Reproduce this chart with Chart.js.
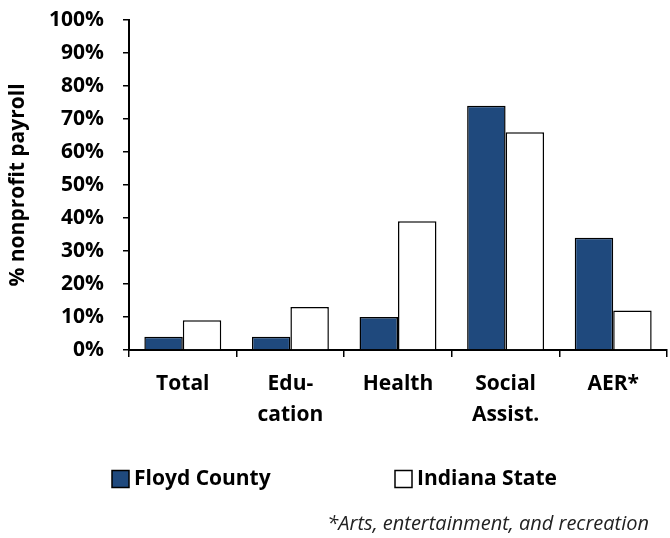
<!DOCTYPE html>
<html lang="en">
<head>
    <meta charset="UTF-8">
    <title>Nonprofit payroll share by sector</title>
    <style>
        body {
            margin: 0;
            padding: 0;
            background-color: #fff;
        }

        .chart-box {
            position: relative;
            width: 670px;
            height: 538px;
        }
    </style>
</head>
<body>
    <div class="chart-box">
        <canvas id="payrollChart"></canvas>
    </div>

    <script src="https://cdn.jsdelivr.net/npm/chart.js"></script>
    <script>
        // Sectors on the x axis (multi-line labels as arrays)
        const sectors = ['Total', ['Edu-', 'cation'], 'Health', ['Social', 'Assist.'], 'AER*'];

        // Share of nonprofit payroll, in percent
        const floydCounty = [4, 4, 10, 74, 34];
        const indianaState = [9, 13, 39, 66, 12];

        const seriesNames = ['Floyd County', 'Indiana State'];
        const footnote = '*Arts, entertainment, and recreation';

        const yTicks = { min: 0, max: 100, step: 10 };

        const FONT = '"Open Sans", sans-serif';

        // Legend spread out under the plot, plus the footnote
        const legendAndNote = {
            id: 'legendAndNote',
            afterDraw(chart) {
                const ctx = chart.ctx;
                const boxX = [112, 395];
                const boxSize = 17;
                const rowY = 479;

                ctx.save();
                ctx.font = 'bold 21px ' + FONT;
                ctx.textBaseline = 'middle';
                ctx.textAlign = 'left';
                chart.data.datasets.forEach((ds, i) => {
                    ctx.fillStyle = ds.backgroundColor;
                    ctx.fillRect(boxX[i], rowY - boxSize / 2, boxSize, boxSize);
                    ctx.lineWidth = 1.5;
                    ctx.strokeStyle = '#000';
                    ctx.strokeRect(boxX[i], rowY - boxSize / 2, boxSize, boxSize);
                    ctx.fillStyle = '#000';
                    ctx.fillText(ds.label, boxX[i] + boxSize + 5, rowY);
                });

                ctx.font = 'italic 20px ' + FONT;
                ctx.textAlign = 'right';
                ctx.fillStyle = '#222';
                ctx.fillText(footnote, 649, 524);
                ctx.restore();
            }
        };

        const ctx = document.getElementById('payrollChart').getContext('2d');

        new Chart(ctx, {
            type: 'bar',
            data: {
                labels: sectors,
                datasets: [{
                    label: seriesNames[0],
                    data: floydCounty,
                    backgroundColor: '#1f497d',
                    borderColor: '#000',
                    borderWidth: 1.5
                }, {
                    label: seriesNames[1],
                    data: indianaState,
                    backgroundColor: '#ffffff',
                    borderColor: '#000',
                    borderWidth: 1.5
                }]
            },
            options: {
                responsive: true,
                maintainAspectRatio: false,
                animation: false,
                categoryPercentage: 0.715,
                barPercentage: 1.0,
                layout: {
                    padding: { top: 20, right: 3, bottom: 0, left: 0 }
                },
                plugins: {
                    legend: { display: false },
                    tooltip: { enabled: false }
                },
                scales: {
                    x: {
                        afterFit(scale) {
                            scale.height = 188;
                        },
                        grid: {
                            offset: true,
                            drawOnChartArea: false,
                            drawTicks: true,
                            tickLength: 7,
                            color: '#000',
                            lineWidth: 1.5
                        },
                        border: { display: true, color: '#000', width: 2 },
                        ticks: {
                            color: '#000',
                            padding: 11,
                            maxRotation: 0,
                            autoSkip: false,
                            font: { family: FONT, size: 21, weight: 'bold', lineHeight: 1.5 }
                        }
                    },
                    y: {
                        min: yTicks.min,
                        max: yTicks.max,
                        afterFit(scale) {
                            // fixed axis position; labels may overhang the plot edges
                            scale.width = 129;
                            scale.paddingTop = 0;
                            scale.paddingBottom = 0;
                        },
                        grid: {
                            drawOnChartArea: false,
                            drawTicks: true,
                            tickLength: 6,
                            color: '#000',
                            lineWidth: 1.5
                        },
                        border: { display: true, color: '#000', width: 2 },
                        ticks: {
                            stepSize: yTicks.step,
                            color: '#000',
                            padding: 19,
                            font: { family: FONT, size: 21, weight: 'bold' },
                            callback: value => value + '%'
                        },
                        title: {
                            display: true,
                            text: '% nonprofit payroll',
                            color: '#000',
                            padding: { top: 5, bottom: 0 },
                            font: { family: FONT, size: 21, weight: 'bold' }
                        }
                    }
                }
            },
            plugins: [legendAndNote]
        });
    </script>
</body>
</html>
